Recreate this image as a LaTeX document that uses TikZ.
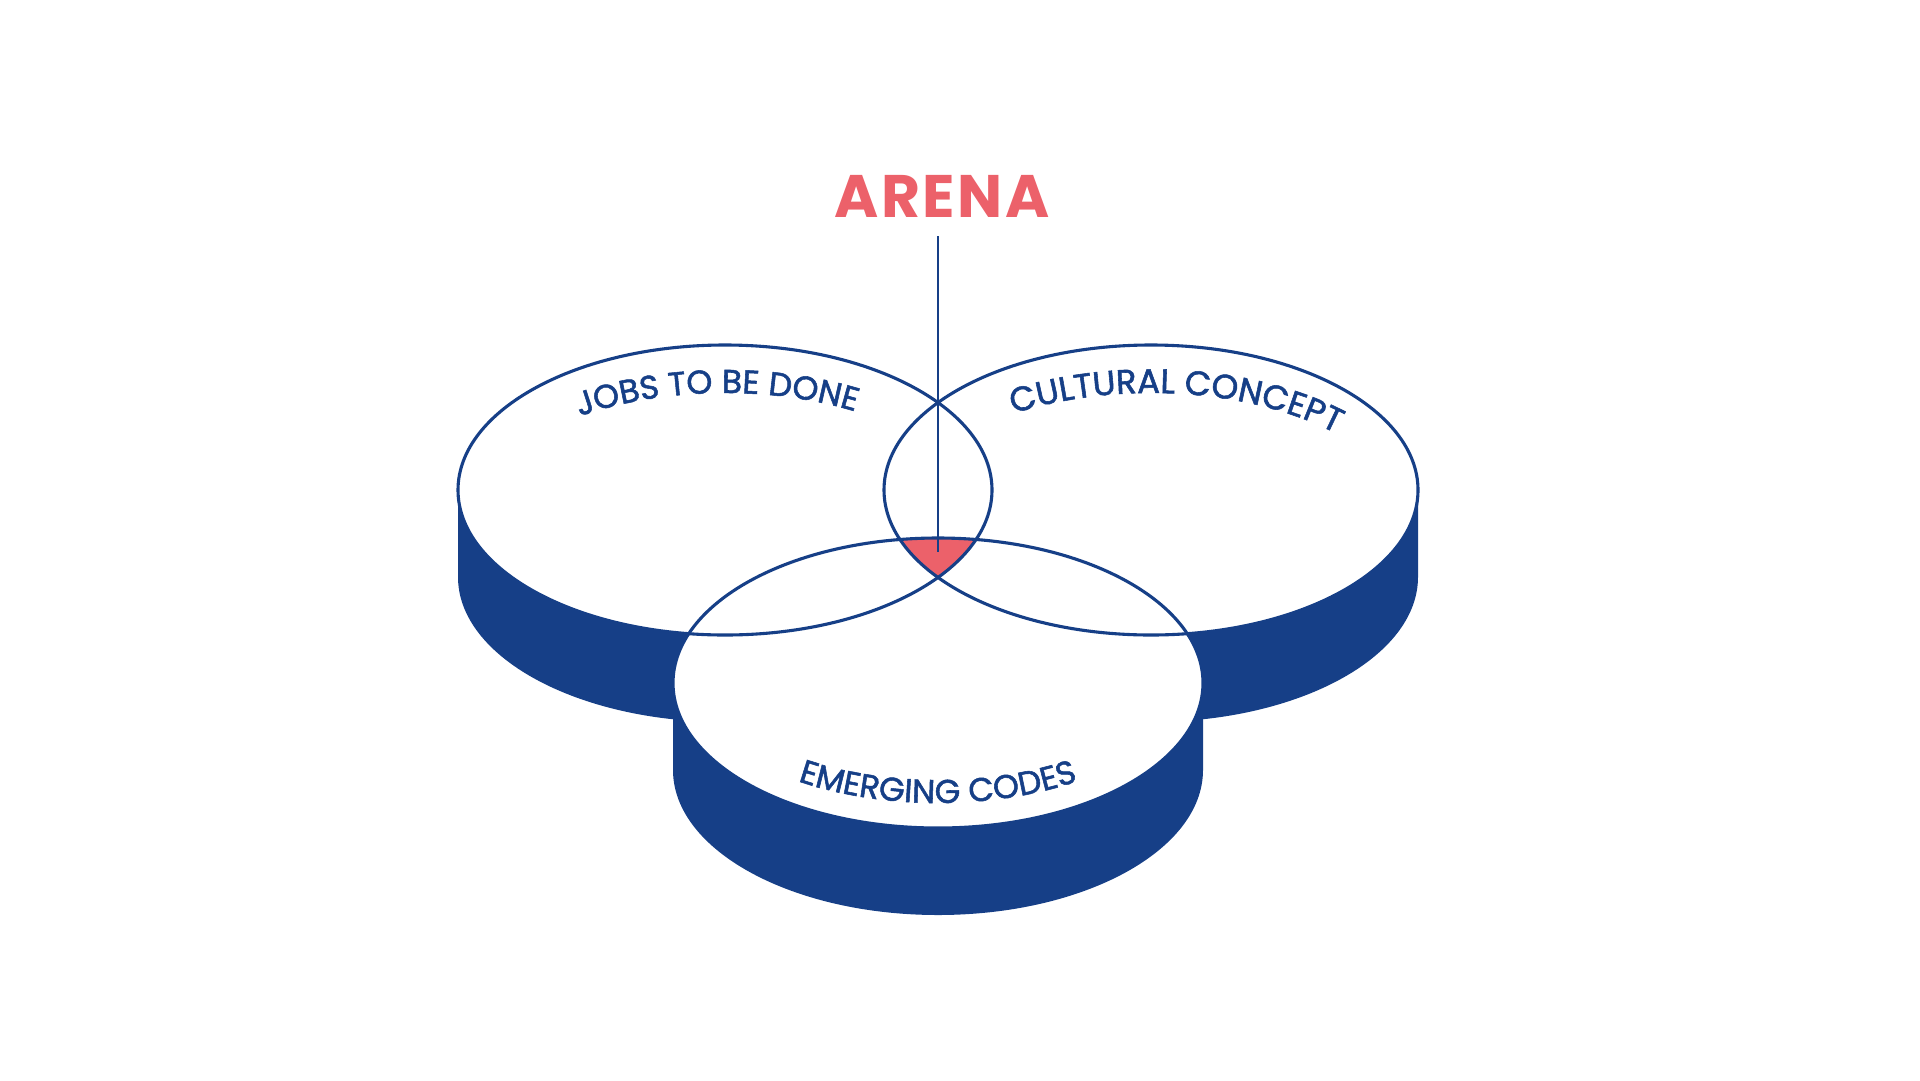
\documentclass[tikz,border=0pt]{standalone}
\usepackage{fontspec}
\setmainfont{Poppins}
\usetikzlibrary{decorations.text}
\definecolor{navy}{HTML}{163F87}
\definecolor{coral}{HTML}{EC616A}
\newfontfamily\lblfont{Poppins}[FakeBold=1.6]
\tikzset{
  outline/.style={draw=navy, line width=3.1pt},
  side/.style={fill=navy},
  face/.style={fill=white},
  curvelabel/.style={decorate, decoration={text along path, text align=center, text color=navy, text={#1}}}
}
\begin{document}
\begin{tikzpicture}[x=1pt,y=-1pt]
\useasboundingbox (0,0) rectangle (1920,1080);
% sides of the upper two cylinders
\fill[side] (458,490) -- (458,577) arc[start angle=180,end angle=0,x radius=267,y radius=145] -- (992,490) -- cycle;
\fill[side] (884,490) -- (884,577) arc[start angle=180,end angle=0,x radius=267,y radius=145] -- (1418,490) -- cycle;
% top faces
\fill[face] (725,490) ellipse[x radius=267,y radius=145];
\fill[face] (1151,490) ellipse[x radius=267,y radius=145];
% bottom cylinder
\fill[side] (673,683) -- (673,770) arc[start angle=180,end angle=0,x radius=265,y radius=145] -- (1203,683) -- cycle;
\fill[face] (938,683) ellipse[x radius=265,y radius=145];
% arena region
\begin{scope}
\clip (725,490) ellipse[x radius=267,y radius=145];
\clip (1151,490) ellipse[x radius=267,y radius=145];
\fill[coral] (938,683) ellipse[x radius=265,y radius=145];
\end{scope}
% outlines
\draw[outline] (725,490) ellipse[x radius=267,y radius=145];
\draw[outline] (1151,490) ellipse[x radius=267,y radius=145];
\draw[outline] (938,683) ellipse[x radius=265,y radius=145];
% labels
\path[curvelabel={|\lblfont\fontsize{33}{33}\selectfont|JOBS TO BE DONE}] ([shift={(202.4:267 and 145)}]725,538) arc[start angle=202.4,end angle=332.4,x radius=267,y radius=145];
\path[curvelabel={|\lblfont\fontsize{34}{34}\selectfont|CULTURAL CONCEPT}] ([shift={(209:267 and 145)}]1151,538) arc[start angle=209,end angle=349,x radius=267,y radius=145];
\path[curvelabel={|\lblfont\fontsize{33}{33}\selectfont|EMERGING CODES}] ([shift={(155:265 and 145)}]938,658) arc[start angle=155,end angle=25,x radius=265,y radius=145];
% ARENA
\node[anchor=base, inner sep=0pt, text=coral, font=\fontsize{60}{60}\selectfont\bfseries\addfontfeature{LetterSpace=4}] (arena) at (942,217) {ARENA};
\coordinate (tip) at (938,552);
\draw[navy, line width=2.8pt] ([yshift=-19pt]arena.south -| tip) -- (tip);
\end{tikzpicture}
\end{document}
